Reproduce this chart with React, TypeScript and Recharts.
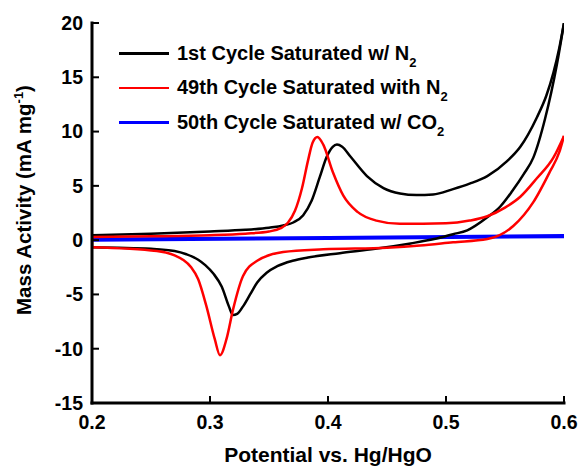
import React from "react";
import { LineChart, Line, XAxis, YAxis } from "recharts";

const FONT = "'Liberation Sans', Arial, Helvetica, sans-serif";

const xTicks = [0.2, 0.3, 0.4, 0.5, 0.6];
const yTicks = [-15, -10, -5, 0, 5, 10, 15, 20];

const seriesNames = [
  { main: "1st Cycle Saturated w/ N", sub: "2", color: "#000000" },
  { main: "49th Cycle Saturated with N", sub: "2", color: "#ff0000" },
  { main: "50th Cycle Saturated w/ CO", sub: "2", color: "#0000ff" },
];

// 1st cycle (black) — anodic (forward) branch
const c1Forward: number[][] = [
  [0.2, 0.45], [0.25, 0.6], [0.3, 0.8], [0.33, 0.95], [0.35, 1.15], [0.362, 1.35],
  [0.371, 1.65], [0.379, 2.3], [0.386, 3.6], [0.393, 5.8], [0.399, 7.7], [0.404, 8.6],
  [0.4076, 8.8], [0.412, 8.6], [0.419, 7.7], [0.433, 5.9], [0.447, 4.8], [0.461, 4.3],
  [0.475, 4.15], [0.489, 4.2], [0.506, 4.7], [0.52, 5.2], [0.535, 5.9], [0.552, 7.3],
  [0.563, 8.6], [0.577, 11.3], [0.585, 13.3], [0.591, 15.4], [0.596, 17.7], [0.6, 20],
];
// 1st cycle (black) — cathodic (return) branch
const c1Backward: number[][] = [
  [0.2, -0.65], [0.25, -0.8], [0.27, -1.0], [0.28, -1.3], [0.29, -1.8], [0.296, -2.3],
  [0.303, -3.1], [0.31, -4.3], [0.316, -6.1], [0.3195, -6.9], [0.323, -6.8], [0.328, -6.1],
  [0.334, -5.0], [0.34, -3.9], [0.348, -3.0], [0.357, -2.4], [0.37, -1.9], [0.383, -1.6],
  [0.41, -1.2], [0.44, -0.8], [0.47, -0.3], [0.49, 0.1], [0.506, 0.55], [0.518, 0.9],
  [0.535, 2.1], [0.546, 3.1], [0.556, 4.5], [0.566, 6.1], [0.574, 7.6], [0.584, 11.2],
  [0.594, 16.2], [0.6, 20],
];
const c1Edge: number[][] = [[0.2, 0.45], [0.2, -0.65]];

// 49th cycle (red)
const c49Forward: number[][] = [
  [0.2, 0.3], [0.25, 0.35], [0.3, 0.45], [0.33, 0.6], [0.35, 0.8], [0.36, 1.1],
  [0.366, 1.6], [0.372, 2.7], [0.378, 4.8], [0.383, 7.3], [0.387, 9.0], [0.391, 9.5],
  [0.396, 8.8], [0.404, 6.3], [0.413, 4.1], [0.425, 2.6], [0.441, 1.8], [0.461, 1.5],
  [0.5, 1.55], [0.52, 1.8], [0.535, 2.2], [0.55, 3.0], [0.563, 4.0], [0.577, 5.7],
  [0.591, 7.6], [0.6, 9.6],
];
const c49Backward: number[][] = [
  [0.2, -0.65], [0.255, -1.0], [0.27, -1.4], [0.277, -1.8], [0.284, -2.5], [0.29, -3.6],
  [0.297, -6.1], [0.304, -9.1], [0.3085, -10.6], [0.314, -9.1], [0.3195, -6.4],
  [0.328, -3.3], [0.34, -1.9], [0.362, -1.1], [0.396, -0.85], [0.45, -0.7], [0.478, -0.5],
  [0.506, -0.2], [0.535, 0.1], [0.557, 1.3], [0.574, 3.5], [0.588, 6.3], [0.596, 8.1],
  [0.6, 9.6],
];
const c49Edge: number[][] = [[0.2, 0.3], [0.2, -0.65]];

// 50th cycle (blue)
const c50Forward: number[][] = [[0.2, 0.12], [0.4, 0.27], [0.6, 0.44]];
const c50Backward: number[][] = [[0.2, -0.03], [0.4, 0.12], [0.6, 0.3]];

const pts = (a: number[][]) => a.map(([x, y]) => ({ x, y }));

const axisLineStyle = { stroke: "#000", strokeWidth: 3, strokeLinecap: "square" as const };
const tickLineStyle = { stroke: "#000", strokeWidth: 2 };
const tickStyle = { fill: "#000", fontSize: 19.5, fontWeight: "bold", fontFamily: FONT };

const XTitle = (props: any) => {
  const vb = props.viewBox || {};
  return (
    <text
      x={vb.x + vb.width / 2}
      y={vb.y + 59}
      textAnchor="middle"
      fill="#000"
      fontSize={21}
      fontWeight="bold"
      fontFamily={FONT}
    >
      Potential vs. Hg/HgO
    </text>
  );
};

const YTitle = (props: any) => {
  const vb = props.viewBox || {};
  const cx = vb.x + 31;
  const cy = vb.y + vb.height / 2 - 13;
  return (
    <text
      x={cx}
      y={cy}
      transform={`rotate(-90 ${cx} ${cy})`}
      textAnchor="middle"
      fill="#000"
      fontSize={20.5}
      fontWeight="bold"
      fontFamily={FONT}
    >
      Mass Activity (mA mg
      <tspan dy={-8} fontSize={13}>-1</tspan>
      <tspan dy={8}>)</tspan>
    </text>
  );
};

const lineProps = {
  dot: false,
  isAnimationActive: false,
  xAxisId: "b",
  yAxisId: "l",
  dataKey: "y",
  legendType: "none" as const,
};

export default function App() {
  return (
    <div
      style={{
        position: "absolute",
        left: 0,
        top: 0,
        width: 580,
        height: 468,
        background: "#fff",
        fontFamily: FONT,
      }}
    >
      <LineChart width={580} height={468} margin={{ top: 23, right: 16, bottom: 0, left: 0 }}>
        <XAxis
          xAxisId="b"
          dataKey="x"
          type="number"
          orientation="bottom"
          domain={[0.2, 0.6]}
          ticks={xTicks}
          interval={0}
          allowDataOverflow
          height={65}
          axisLine={axisLineStyle}
          tickLine={tickLineStyle}
          tickSize={-7}
          tickMargin={19}
          tick={tickStyle}
          tickFormatter={(v: number) => v.toFixed(1)}
          label={(p: any) => <XTitle {...p} />}
        />
        <XAxis
          xAxisId="t"
          dataKey="x"
          type="number"
          orientation="top"
          domain={[0.2, 0.6]}
          ticks={xTicks}
          interval={0}
          allowDataOverflow
          height={0}
          axisLine={axisLineStyle}
          tickLine={tickLineStyle}
          tickSize={-7}
          tick={false}
        />
        <YAxis
          yAxisId="l"
          type="number"
          orientation="left"
          domain={[-15, 20]}
          ticks={yTicks}
          interval={0}
          allowDataOverflow
          width={92}
          axisLine={axisLineStyle}
          tickLine={tickLineStyle}
          tickSize={-7}
          tickMargin={16}
          tick={tickStyle}
          label={(p: any) => <YTitle {...p} />}
        />
        <YAxis
          yAxisId="r"
          type="number"
          orientation="right"
          domain={[-15, 20]}
          ticks={yTicks}
          interval={0}
          allowDataOverflow
          width={0}
          axisLine={axisLineStyle}
          tickLine={tickLineStyle}
          tickSize={-7}
          tick={false}
        />
        <Line {...lineProps} data={pts(c50Forward)} type="linear" stroke="#0000ff" strokeWidth={2.5} />
        <Line {...lineProps} data={pts(c50Backward)} type="linear" stroke="#0000ff" strokeWidth={2.5} />
        <Line {...lineProps} data={pts(c1Forward)} type="monotone" stroke="#000" strokeWidth={2.5} />
        <Line {...lineProps} data={pts(c1Backward)} type="monotone" stroke="#000" strokeWidth={2.5} />
        <Line {...lineProps} data={pts(c1Edge)} type="linear" stroke="#000" strokeWidth={2.5} />
        <Line {...lineProps} data={pts(c49Forward)} type="monotone" stroke="#ff0000" strokeWidth={2.5} />
        <Line {...lineProps} data={pts(c49Backward)} type="monotone" stroke="#ff0000" strokeWidth={2.5} />
        <Line {...lineProps} data={pts(c49Edge)} type="linear" stroke="#ff0000" strokeWidth={2.5} />
      </LineChart>
      <div style={{ position: "absolute", left: 119, top: 36, pointerEvents: "none" }}>
        {seriesNames.map((s) => (
          <div
            key={s.main}
            style={{ display: "flex", alignItems: "center", height: 34.5, whiteSpace: "nowrap" }}
          >
            <div style={{ width: 50, height: 2.5, background: s.color, marginRight: 8 }} />
            <span style={{ fontSize: 20, fontWeight: "bold", color: "#000", fontFamily: FONT }}>
              {s.main}
              <span style={{ fontSize: 13, position: "relative", top: 7 }}>{s.sub}</span>
            </span>
          </div>
        ))}
      </div>
    </div>
  );
}
